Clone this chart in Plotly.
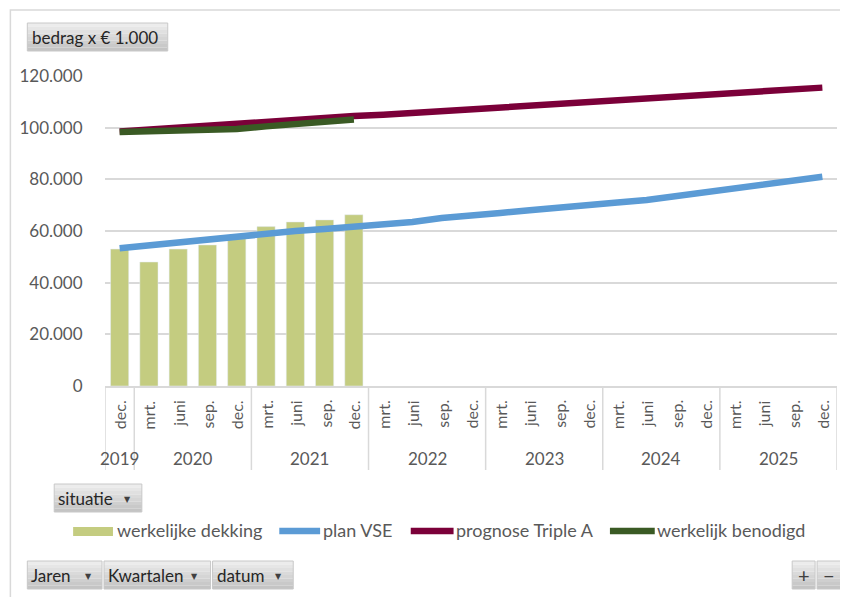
import plotly.graph_objects as go

# ---------------- data ----------------
jaren = ["2019", "2020", "2021", "2022", "2023", "2024", "2025"]
kwartalen_per_jaar = [["dec."]] + [["mrt.", "juni", "sep.", "dec."]] * 6
kwartalen = [q for qs in kwartalen_per_jaar for q in qs]

werkelijke_dekking = [53000, 48000, 53000, 54600, 57000, 61700, 63500, 64300, 66300] + [None] * 16
plan_vse = [53300, 54500, 55700, 56800, 58000, 59000, 60000, 60800, 61500, 62500, 63500, 65000, 66300,
            67000, 68000, 68800, 69800, 71000, 72000, 73500, 75000, 76500, 78000, 79300, 81000]
prognose_triple_a = [98500, 99300, 100000, 100700, 101400, 102200, 103000, 103700, 104500, 105000, 105700,
                     106400, 107000, 107700, 108500, 109300, 110000, 110700, 111500, 112300, 113000,
                     113800, 114500, 115000, 115500]
werkelijk_benodigd = [98300, 98600, 98900, 99200, 99500, 100500, 101500, 102400, 103200] + [None] * 16

y_ticks = [0, 20000, 40000, 60000, 80000, 100000, 120000]

# ---------------- style ----------------
FONT = "Lato"
TXT = "#595959"
GRID = "#d9d9d9"
C_BAR = "#c4cc80"
C_BLUE = "#5b9bd5"
C_MAROON = "#7b0039"
C_GREEN = "#3a5a24"

OFF = 8  # browser body margin
W, H = 848 - OFF, 597 - OFF
L, R, T, B = 102, 837, 76, 386  # plot area in reference pixels


def px(x):
    return (x - L) / (R - L)


def py(y):
    return (B - y) / (B - T)


idx = list(range(len(kwartalen)))

fig = go.Figure()
fig.add_trace(go.Bar(x=idx, y=werkelijke_dekking, name="werkelijke dekking", marker_color=C_BAR))
fig.add_trace(go.Scatter(x=idx, y=plan_vse, name="plan VSE", mode="lines",
                         line=dict(color=C_BLUE, width=6.5)))
fig.add_trace(go.Scatter(x=idx, y=prognose_triple_a, name="prognose Triple A", mode="lines",
                         line=dict(color=C_MAROON, width=6.5)))
fig.add_trace(go.Scatter(x=idx, y=werkelijk_benodigd, name="werkelijk benodigd", mode="lines",
                         line=dict(color=C_GREEN, width=6.5)))

shapes = []
annotations = []

# outer chart border
shapes.append(dict(type="rect", xref="paper", yref="paper", x0=px(7), x1=px(852), y0=py(10), y1=py(605),
                   line=dict(color="#d9d9d9", width=1.5), fillcolor="rgba(0,0,0,0)", layer="below"))

# category axis: quarter labels, year labels, dividers
for i, q in enumerate(kwartalen):
    annotations.append(dict(xref="x", yref="paper", x=i, y=py(398), text=q, textangle=-90,
                            showarrow=False, xanchor="center", yanchor="top",
                            font=dict(family=FONT, size=16, color=TXT)))
start = 0
bounds = [-0.5]
for j, qs in enumerate(kwartalen_per_jaar):
    end = start + len(qs) - 1
    annotations.append(dict(xref="x", yref="paper", x=(start + end) / 2, y=py(459), text=jaren[j],
                            showarrow=False, xanchor="center", yanchor="middle",
                            font=dict(family=FONT, size=17, color=TXT)))
    start = end + 1
    bounds.append(end + 0.5)
for bx in bounds:
    shapes.append(dict(type="line", xref="x", yref="paper", x0=bx, x1=bx, y0=py(386), y1=py(470),
                       line=dict(color=GRID, width=1.5)))


def button(x0, x1, y0, y1, text=None, arrow_x=None, text_x=None, size=17, center=False):
    n = 8
    top = (236, 236, 236)
    bot = (196, 196, 196)
    for i in range(n):
        f = i / (n - 1)
        c = tuple(int(top[k] + (bot[k] - top[k]) * f) for k in range(3))
        ya = y0 + (y1 - y0) * i / n
        yb = y0 + (y1 - y0) * (i + 1) / n
        shapes.append(dict(type="rect", xref="paper", yref="paper", x0=px(x0), x1=px(x1),
                           y0=py(ya), y1=py(yb), line=dict(width=0),
                           fillcolor="rgb(%d,%d,%d)" % c))
    shapes.append(dict(type="rect", xref="paper", yref="paper", x0=px(x0), x1=px(x1), y0=py(y0), y1=py(y1),
                       line=dict(color="#c8c8c8", width=1), fillcolor="rgba(0,0,0,0)"))
    if text is not None:
        if center:
            annotations.append(dict(xref="paper", yref="paper", x=px((x0 + x1) / 2), y=py((y0 + y1) / 2),
                                    text=text, showarrow=False, xanchor="center", yanchor="middle",
                                    font=dict(family=FONT, size=size, color="#404040")))
        else:
            annotations.append(dict(xref="paper", yref="paper", x=px(text_x), y=py((y0 + y1) / 2),
                                    text=text, showarrow=False, xanchor="left", yanchor="middle",
                                    font=dict(family=FONT, size=size, color="#262626")))
    if arrow_x is not None:
        annotations.append(dict(xref="paper", yref="paper", x=px(arrow_x), y=py((y0 + y1) / 2 + 1),
                                text="▼", showarrow=False, xanchor="center", yanchor="middle",
                                font=dict(family="DejaVu Sans", size=8, color="#404040")))


button(24, 165, 23, 51, "bedrag x € 1.000", text_x=27)
button(51, 139, 484, 512, "situatie", arrow_x=125, text_x=53)
button(24, 99, 561, 589, "Jaren", arrow_x=85, text_x=26)
button(101, 208, 561, 589, "Kwartalen", arrow_x=192, text_x=103)
button(210, 291, 561, 589, "datum", arrow_x=276, text_x=212)
button(792, 815, 561, 589, "+", center=True, size=20)
button(817, 841, 561, 589, "−", center=True, size=20)

# manual legend
LY = 531
shapes.append(dict(type="rect", xref="paper", yref="paper", x0=px(70), x1=px(110), y0=py(527), y1=py(536),
                   line=dict(width=0), fillcolor=C_BAR))
for (a, b, c) in [(277, 318, C_BLUE), (409, 452, C_MAROON), (609, 654, C_GREEN)]:
    shapes.append(dict(type="line", xref="paper", yref="paper", x0=px(a), x1=px(b), y0=py(LY), y1=py(LY),
                       line=dict(color=c, width=6.5)))
for (tx, t) in [(114, "werkelijke dekking"), (321, "plan VSE"), (454, "prognose Triple A"),
                (656, "werkelijk benodigd")]:
    annotations.append(dict(xref="paper", yref="paper", x=px(tx), y=py(LY - 1), text=t, showarrow=False,
                            xanchor="left", yanchor="middle", xshift=-2,
                            font=dict(family=FONT, size=18, color=TXT)))

fig.update_layout(
    width=W, height=H,
    margin=dict(l=L - OFF, r=848 - R, t=T - OFF, b=597 - B, pad=0),
    paper_bgcolor="white", plot_bgcolor="white",
    separators=",.",
    showlegend=False,
    bargap=0.38,
    font=dict(family=FONT, size=17, color=TXT),
    shapes=shapes,
    annotations=annotations,
)
fig.update_xaxes(showgrid=False, zeroline=False, showticklabels=False,
                 showline=True, linecolor=GRID, linewidth=1.5,
                 ticks="", range=[-0.5, len(kwartalen) - 0.5])
fig.update_yaxes(range=[0, 120000], tickvals=y_ticks, tickformat=",d",
                 showgrid=True, gridcolor=GRID, gridwidth=1.5, zeroline=False, showline=False,
                 ticks="outside", ticklen=18, tickcolor="rgba(0,0,0,0)",
                 tickfont=dict(family=FONT, size=17, color=TXT))

fig.write_html("out.html")
